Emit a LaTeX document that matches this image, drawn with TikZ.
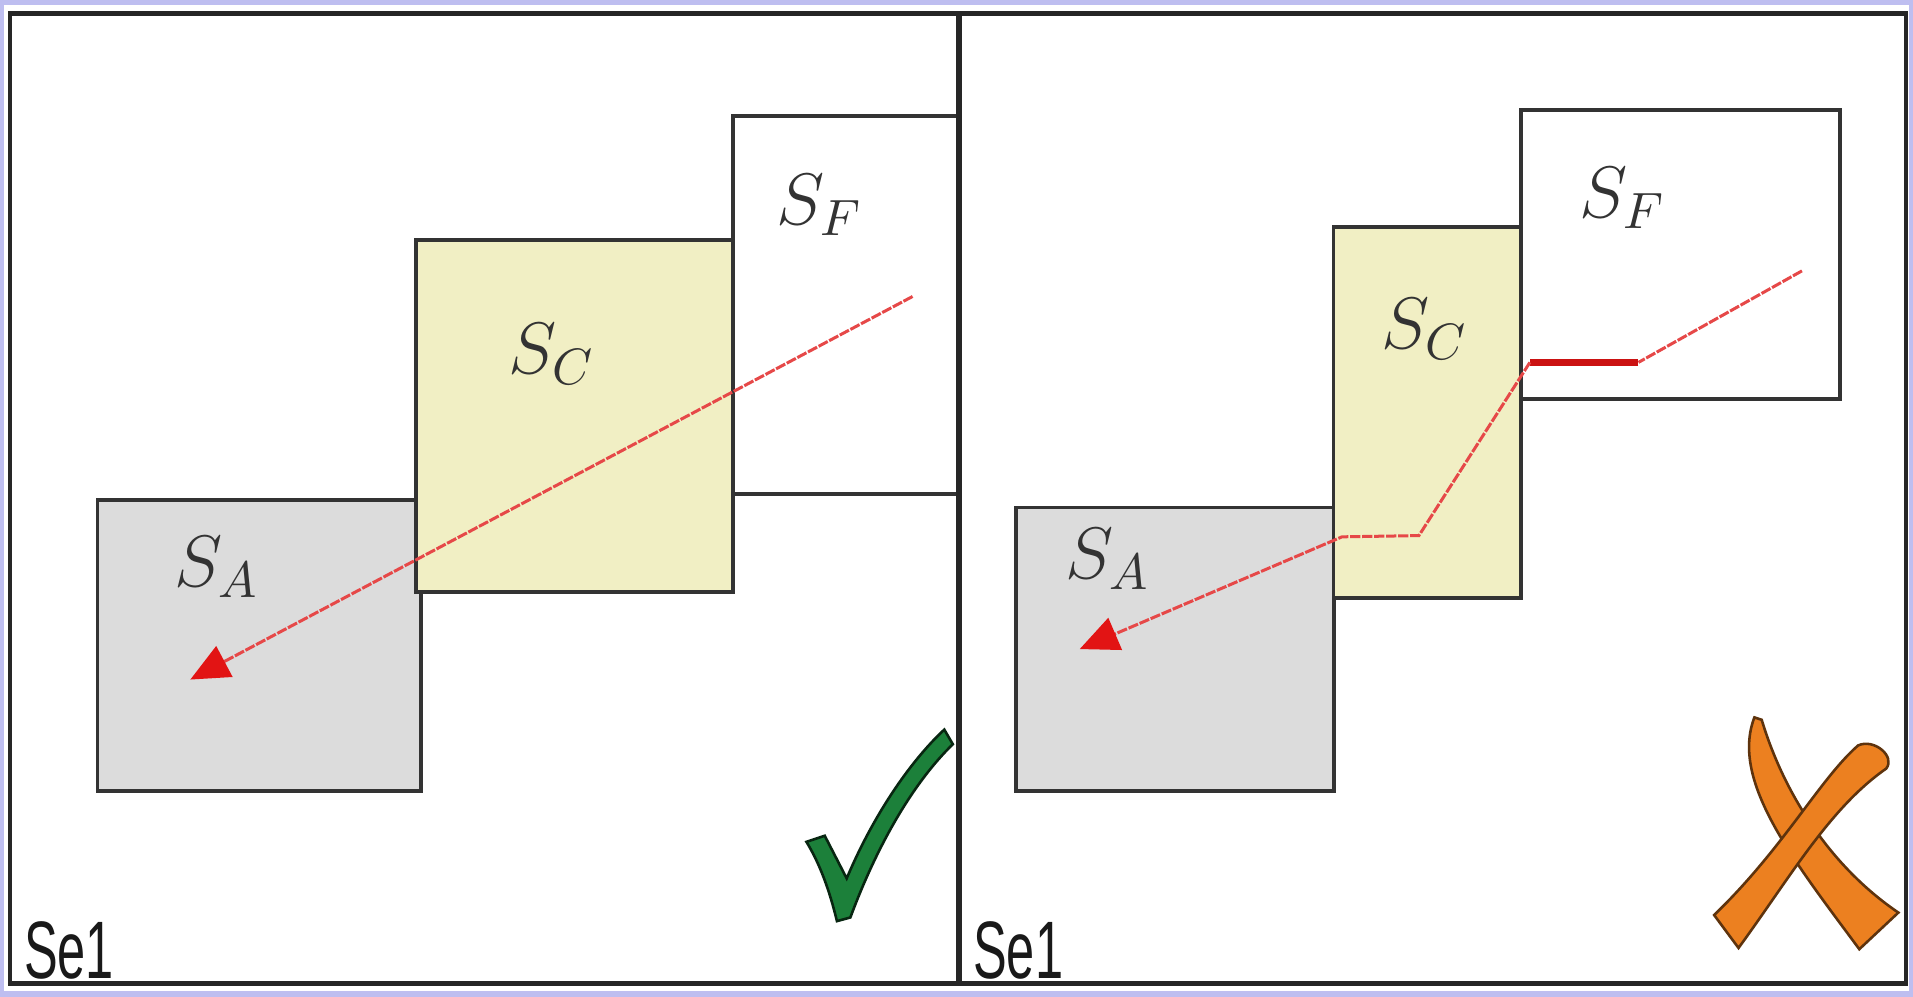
\documentclass[tikz,border=0pt]{standalone}
\usepackage{fontspec}
\usepackage{amsmath}
\usepackage{fix-cm}
\usetikzlibrary{arrows.meta}
\newfontfamily\tagfont[FakeStretch=0.62]{Liberation Sans}
\definecolor{frameblue}{RGB}{190,190,240}
\definecolor{zonegray}{RGB}{220,220,220}
\definecolor{zoneyellow}{RGB}{241,239,196}
\definecolor{rayred}{RGB}{230,72,72}
\definecolor{tipred}{RGB}{226,20,20}
\definecolor{okgreen}{RGB}{28,128,58}
\definecolor{nogold}{RGB}{236,128,32}
\tikzset{
  zone/.style={rectangle, draw=black!80, line width=0.9pt, inner sep=0pt},
  zoneA/.style={zone, fill=zonegray},
  zoneC/.style={zone, fill=zoneyellow},
  zoneF/.style={zone, fill=white},
  lbl/.style={font=\fontsize{17}{20}\selectfont, inner sep=0pt, text=black!80},
  tag/.style={font=\tagfont\fontsize{19}{22}\selectfont, inner sep=0pt, anchor=south west, text=black!90},
  ray/.style={draw=rayred, line width=0.7pt, dash pattern=on 2.4pt off 0.4pt},
  raytip/.style={ray, -{Triangle[length=9pt, width=8pt, color=tipred]}},
  rayhot/.style={draw=tipred!90!black, line width=1.6pt},
  sign/.style={line width=0.6pt},
}
\begin{document}
\begin{tikzpicture}[x=0.01cm, y=-0.01cm]
% frame
\fill[frameblue] (0,0) rectangle (1568,817);
\fill[white] (3,4) rectangle (1565,812);
% left panel
\node[zoneA, minimum width=2.65cm, minimum height=2.38cm] (sa1) at (212.5,529) {};
\node[zoneC, minimum width=2.60cm, minimum height=2.88cm] (sc1) at (471,341) {};
\node[zoneF, minimum width=1.84cm, minimum height=3.10cm] (sf1) at (693,250) {};
\node[lbl] (la1) at (178,465) {$S_{A}$};
\node[lbl] (lc1) at (452,290) {$S_{C}$};
\node[lbl] (lf1) at (672,168) {$S_{F}$};
\coordinate (r1s) at (748,243);
\coordinate (r1e) at (156,557);
\draw[raytip] (r1s) -- (r1e);
% right panel
\node[zoneA, minimum width=2.60cm, minimum height=2.32cm] (sa2) at (963,532) {};
\node[zoneC, minimum width=1.54cm, minimum height=3.04cm] (sc2) at (1170,338) {};
\node[zoneF, minimum width=2.61cm, minimum height=2.37cm] (sf2) at (1377.5,208.5) {};
\node[lbl] (la2) at (908,458) {$S_{A}$};
\node[lbl] (lc2) at (1168,270) {$S_{C}$};
\node[lbl] (lf2) at (1330,162) {$S_{F}$};
\coordinate (r2s) at (1477,222);
\coordinate (r2a) at (1343,297);
\coordinate (r2b) at (1254,297);
\coordinate (r2c) at (1163,439);
\coordinate (r2d) at (1100,440);
\coordinate (r2e) at (885,532);
\draw[ray] (r2s) -- (r2a);
\draw[rayhot] (r2a) -- (r2b);
\draw[raytip] (r2b) -- (r2c) -- (r2d) -- (r2e);
% marks
\filldraw[sign, fill=okgreen, draw=black!70!okgreen]
  (661,690) -- (676,685) -- (694,720) .. controls (715,670) and (745,625) .. (774,598)
  -- (781,610) .. controls (750,640) and (720,690) .. (697,752)
  -- (686,755) .. controls (680,730) and (672,708) .. (661,690) -- cycle;
\filldraw[sign, fill=nogold, draw=black!60!nogold]
  (1438,588) .. controls (1418,640) and (1470,705) .. (1524,778)
  -- (1556,748) .. controls (1500,710) and (1462,650) .. (1444,590) -- cycle;
\filldraw[sign, fill=nogold, draw=black!60!nogold]
  (1523,611) .. controls (1492,638) and (1462,695) .. (1405,750)
  -- (1425,777) .. controls (1468,718) and (1500,662) .. (1546,630)
  .. controls (1554,620) and (1536,605) .. (1523,611) -- cycle;
% tags
\node[tag] (se1) at (19,803) {Se1};
\node[tag] (se2) at (797,803) {Se1};
% panel borders
\draw[black!85, line width=1pt] (8,11) rectangle (1562,806);
\draw[black!85, line width=1.3pt] (786,11) -- (786,806);
\end{tikzpicture}
\end{document}
